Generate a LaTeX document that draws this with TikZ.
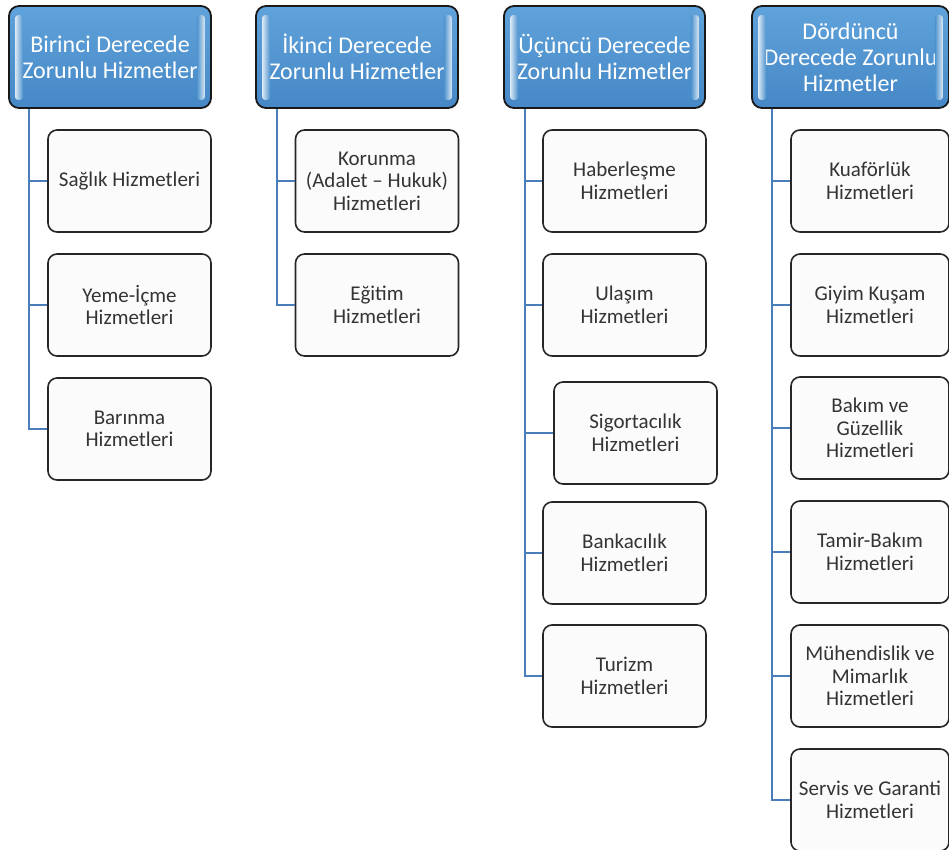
\documentclass[tikz,border=0pt]{standalone}
\usepackage{fontspec}
\setmainfont{Carlito}
\usetikzlibrary{calc}
\definecolor{hblue}{RGB}{78,146,206}
\definecolor{htop}{RGB}{96,162,218}
\definecolor{hbot}{RGB}{70,136,198}
\definecolor{conn}{RGB}{74,126,187}
\definecolor{ctext}{RGB}{52,52,52}
\tikzset{
  hdr/.style={draw=black!90, line width=1.8pt, rounded corners=10pt, top color=htop, bottom color=hbot,
    text=white, align=center, font=\fontsize{24}{26}\selectfont, minimum height=102pt, inner sep=1pt},
  child/.style={draw=black!85, line width=1.6pt, rounded corners=9pt, fill=white!98.5!black,
    text=ctext, align=center, font=\fontsize{21}{22.5}\selectfont, minimum height=102pt, minimum width=163pt, inner sep=1pt},
  link/.style={draw=conn, line width=2pt},
  hl/.style={rounded corners=3pt}
}
\newcommand{\gloss}[1]{%
  \shade[hl, left color=white!80!hblue, right color=hblue]
    ([xshift=7pt,yshift=-10pt]#1.north west) rectangle ([xshift=15pt,yshift=9pt]#1.south west);
  \shade[hl, left color=hblue, right color=white!80!hblue]
    ([xshift=-15pt,yshift=-10pt]#1.north east) rectangle ([xshift=-7pt,yshift=9pt]#1.south east);
}
\begin{document}
\begin{tikzpicture}[x=1pt,y=-1pt]
\useasboundingbox (0,0) rectangle (949,850);

% headers
\node[hdr, minimum width=202pt] (h1) at (110,57) {Birinci Derecede\\Zorunlu Hizmetler};
\node[hdr, minimum width=202pt] (h2) at (357,57) {İkinci Derecede\\Zorunlu Hizmetler};
\node[hdr, minimum width=201pt] (h3) at (604.5,57) {Üçüncü Derecede\\Zorunlu Hizmetler};
\node[hdr, minimum width=197pt] (h4) at (850.5,57) {Dördüncü\\Derecede Zorunlu\\Hizmetler};
\gloss{h1}\gloss{h2}\gloss{h3}\gloss{h4}

% column 1
\node[child] (c11) at (129.5,181) {Sağlık Hizmetleri};
\node[child] (c12) at (129.5,305) {Yeme-İçme\\Hizmetleri};
\node[child] (c13) at (129.5,429) {Barınma\\Hizmetleri};

% column 2
\node[child] (c21) at (377,181) {Korunma\\(Adalet – Hukuk)\\Hizmetleri};
\node[child] (c22) at (377,305) {Eğitim\\Hizmetleri};

% column 3
\node[child] (c31) at (624.5,181) {Haberleşme\\Hizmetleri};
\node[child] (c32) at (624.5,305) {Ulaşım\\Hizmetleri};
\node[child] (c33) at (635.5,433) {Sigortacılık\\Hizmetleri};
\node[child] (c34) at (624.5,553) {Bankacılık\\Hizmetleri};
\node[child] (c35) at (624.5,676) {Turizm\\Hizmetleri};

% column 4
\node[child, minimum width=158pt] (c41) at (870,181) {Kuaförlük\\Hizmetleri};
\node[child, minimum width=158pt] (c42) at (870,305) {Giyim Kuşam\\Hizmetleri};
\node[child, minimum width=158pt] (c43) at (870,428) {Bakım ve\\Güzellik\\Hizmetleri};
\node[child, minimum width=158pt] (c44) at (870,552) {Tamir-Bakım\\Hizmetleri};
\node[child, minimum width=158pt] (c45) at (870,676) {Mühendislik ve\\Mimarlık\\Hizmetleri};
\node[child, minimum width=158pt] (c46) at (870,800) {Servis ve Garanti\\Hizmetleri};

% connectors
\foreach \c in {c11,c12,c13}
  \draw[link] ([xshift=21pt]h1.south west) |- (\c.west);
\foreach \c in {c21,c22}
  \draw[link] ([xshift=22pt]h2.south west) |- (\c.west);
\foreach \c in {c31,c32,c33,c34,c35}
  \draw[link] ([xshift=22pt]h3.south west) |- (\c.west);
\foreach \c in {c41,c42,c43,c44,c45,c46}
  \draw[link] ([xshift=21pt]h4.south west) |- (\c.west);
\end{tikzpicture}
\end{document}
